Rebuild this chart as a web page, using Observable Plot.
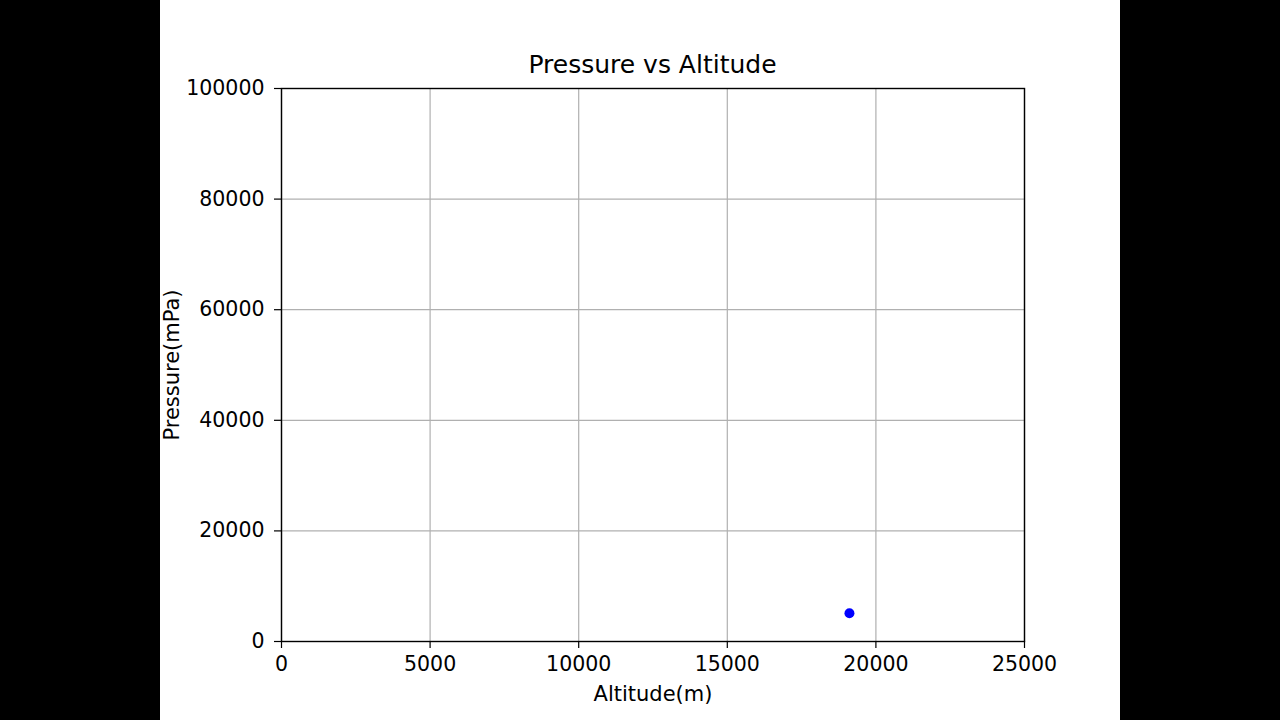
<!DOCTYPE html>
<html>
<head>
<meta charset="utf-8">
<script src="https://cdn.jsdelivr.net/npm/d3@7"></script>
<script src="https://cdn.jsdelivr.net/npm/@observablehq/plot@0.6"></script>
<style>
  html, body { margin: 0; padding: 0; background: #000; width: 1280px; height: 720px; overflow: hidden; }
  #wrap { position: absolute; left: 160px; top: 0; width: 960px; height: 720px; background: #fff; }
  #title { position: absolute; left: 121px; top: 52px; width: 743px; height: 25px; line-height: 25px;
           text-align: center; font-family: "DejaVu Sans", sans-serif; font-size: 25px; color: #000; }
  #chart { position: absolute; left: 0; top: 77px; }
</style>
</head>
<body>
<div id="wrap">
  <div id="title">Pressure vs Altitude</div>
  <div id="chart"></div>
</div>
<script>
const altitude = [19110];
const pressure = [5120];
const xTicks = [0, 5000, 10000, 15000, 20000, 25000];
const yTicks = [0, 20000, 40000, 60000, 80000, 100000];
const xLabel = "Altitude(m)";
const yLabel = "Pressure(mPa)";

const data = altitude.map((a, i) => ({altitude: a, pressure: pressure[i]}));

const chart = Plot.plot({
  width: 960,
  height: 643,
  marginLeft: 121,
  marginRight: 96,
  marginTop: 11,
  marginBottom: 79,
  style: {fontFamily: "DejaVu Sans, sans-serif", fontSize: "20px", color: "#000", background: "#fff"},
  x: {domain: [0, 25000]},
  y: {domain: [0, 100000]},
  marks: [
    Plot.gridX(xTicks, {stroke: "#b0b0b0", strokeOpacity: 1, strokeWidth: 1.2}),
    Plot.gridY(yTicks, {stroke: "#b0b0b0", strokeOpacity: 1, strokeWidth: 1.2}),
    Plot.axisX(xTicks, {tickSize: 7, tickPadding: 8, tickFormat: d => String(d), label: null, fontSize: 20.5, strokeWidth: 1.2}),
    Plot.axisY(yTicks, {tickSize: 7, tickPadding: 10, tickFormat: d => String(d), label: null, fontSize: 20.5, strokeWidth: 1.2}),
    Plot.frame({stroke: "#000", strokeWidth: 1.4}),
    Plot.dot(data, {x: "altitude", y: "pressure", r: 5, fill: "#0000ff", stroke: "none"}),
    Plot.text([xLabel], {frameAnchor: "bottom", dy: 53, lineAnchor: "middle", textAnchor: "middle", text: d => d, fontSize: 21, fill: "#000"}),
    Plot.text([yLabel], {frameAnchor: "left", dx: -109, rotate: -90, textAnchor: "middle", lineAnchor: "middle", text: d => d, fontSize: 21, fill: "#000"})
  ]
});
document.getElementById("chart").appendChild(chart);
</script>
</body>
</html>
